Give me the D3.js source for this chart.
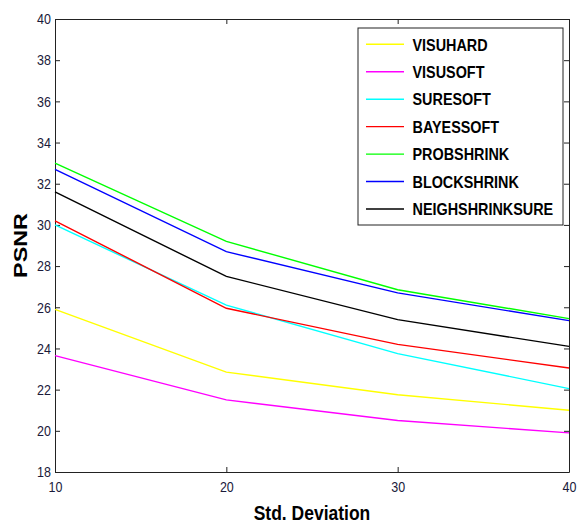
<!DOCTYPE html>
<html>
<head>
<meta charset="utf-8">
<script src="https://cdn.jsdelivr.net/npm/d3@7"></script>
<style>
    body { margin: 0; background: #fff; }
    text { font-family: "Liberation Sans", Arial, sans-serif; }
</style>
</head>
<body>
<div id="chart"></div>
<script>
// chart data
const sigma = [10, 20, 30, 40];
const methods = ['VISUHARD', 'VISUSOFT', 'SURESOFT', 'BAYESSOFT', 'PROBSHRINK', 'BLOCKSHRINK', 'NEIGHSHRINKSURE'];
const colors = ['#ffff00', '#ff00ff', '#00ffff', '#ff0000', '#00ff00', '#0000ff', '#000000'];
const visuhard = [25.9, 22.85, 21.75, 21.0];
const visusoft = [23.65, 21.5, 20.5, 19.9];
const suresoft = [30.0, 26.1, 23.75, 22.05];
const bayessoft = [30.2, 25.95, 24.2, 23.05];
const probshrink = [33.0, 29.2, 26.85, 25.45];
const blockshrink = [32.7, 28.7, 26.7, 25.35];
const neighsure = [31.6, 27.5, 25.4, 24.1];
const yTicks = [18, 20, 22, 24, 26, 28, 30, 32, 34, 36, 38, 40];
const xTicks = [10, 20, 30, 40];

const series = [visuhard, visusoft, suresoft, bayessoft, probshrink, blockshrink, neighsure];

const W = 579, H = 524;
const pLeft = 55, pTop = 19, pRight = 569, pBottom = 472;
const stretch = 1.2; // text in the picture is a bit tall

const svg = d3.select('#chart').append('svg')
    .attr('width', W).attr('height', H);

svg.append('rect').attr('width', W).attr('height', H).attr('fill', '#fff');

const x = d3.scaleLinear().domain([10, 40]).range([pLeft, pRight]);
const y = d3.scaleLinear().domain([18, 40]).range([pBottom, pTop]);

// axes, inward ticks all round
const styleAxis = function(g) {
    g.select('.domain').attr('stroke', '#222').attr('stroke-width', 1);
    g.selectAll('.tick line').attr('stroke', '#222');
    g.selectAll('text').attr('font-size', 12.5).attr('fill', '#1a1a3a');
};

svg.append('g')
    .attr('transform', `translate(0,${pBottom})`)
    .call(d3.axisBottom(x).tickValues(xTicks).tickSize(-5).tickPadding(8).tickSizeOuter(0))
    .call(styleAxis)
    .call(g => g.selectAll('text').attr('transform', `scale(1,${stretch})`));

svg.append('g')
    .attr('transform', `translate(${pLeft},0)`)
    .call(d3.axisLeft(y).tickValues(yTicks).tickSize(-5).tickPadding(4).tickSizeOuter(0))
    .call(styleAxis)
    .call(g => g.selectAll('text').attr('transform', `scale(1,${stretch})`));

svg.append('g')
    .attr('transform', `translate(0,${pTop})`)
    .call(d3.axisTop(x).tickValues(xTicks).tickSize(-5).tickFormat('').tickSizeOuter(0))
    .call(styleAxis);

svg.append('g')
    .attr('transform', `translate(${pRight},0)`)
    .call(d3.axisRight(y).tickValues(yTicks).tickSize(-5).tickFormat('').tickSizeOuter(0))
    .call(styleAxis);

// data lines
const line = d3.line()
    .x((d, i) => x(sigma[i]))
    .y(d => y(d));

svg.append('g')
    .selectAll('path')
    .data(series)
    .join('path')
    .attr('d', line)
    .attr('fill', 'none')
    .attr('stroke', (d, i) => colors[i])
    .attr('stroke-width', 1.4);

// axis titles
svg.append('text')
    .attr('transform', `translate(${(pLeft + pRight) / 2},520) scale(1,${stretch})`)
    .attr('text-anchor', 'middle')
    .attr('font-size', 17.5)
    .attr('font-weight', 'bold')
    .text('Std. Deviation');

svg.append('text')
    .attr('transform', `translate(26.5,${(pTop + pBottom) / 2}) rotate(-90) scale(${stretch + 0.05},1)`)
    .attr('text-anchor', 'middle')
    .attr('font-size', 18.7)
    .attr('font-weight', 'bold')
    .text('PSNR');

// legend
const legend = svg.append('g');
legend.append('rect')
    .attr('x', 358).attr('y', 28)
    .attr('width', 205).attr('height', 197)
    .attr('fill', '#fff')
    .attr('stroke', '#222')
    .attr('stroke-width', 1);

const rowY = i => 44.3 + i * 27.45;

legend.selectAll('line')
    .data(methods)
    .join('line')
    .attr('x1', 366).attr('x2', 404)
    .attr('y1', (d, i) => rowY(i)).attr('y2', (d, i) => rowY(i))
    .attr('stroke', (d, i) => colors[i])
    .attr('stroke-width', 1.4);

legend.selectAll('text')
    .data(methods)
    .join('text')
    .attr('transform', (d, i) => `translate(412.5,${rowY(i)}) scale(1,${stretch})`)
    .attr('dy', '0.36em')
    .attr('font-size', 14.4)
    .attr('font-weight', 'bold')
    .text(d => d);
</script>
</body>
</html>
